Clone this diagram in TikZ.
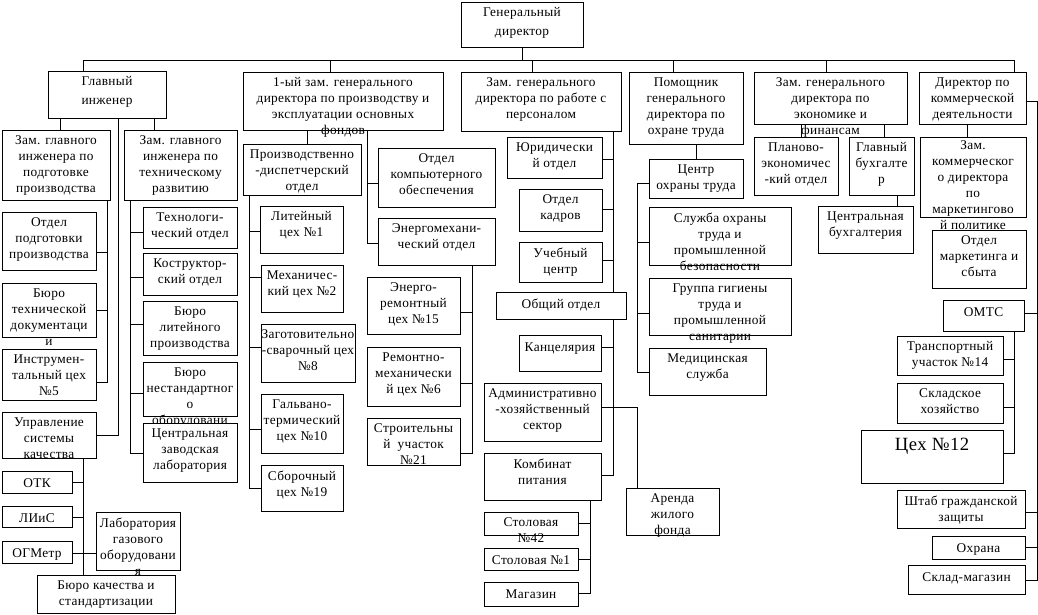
\documentclass[tikz,border=0pt]{standalone}
\usepackage{fontspec}
\setmainfont{Liberation Serif}[LetterSpace=2.5]
\usetikzlibrary{backgrounds}
\tikzset{
  box/.style={draw, fill=white, line width=0.75pt, inner sep=0pt, outer sep=0pt},
  txt/.style={anchor=north, inner sep=0pt, align=center, font=\fontsize{10}{12}\selectfont, execute at begin node=\strut},
  conn/.style={line width=0.75pt},
}
% #1 text options, #2 name, #3 x1, #4 y1, #5 x2, #6 y2, #7 text
\newcommand\orgbox[7][]{%
  \node[box, minimum width={(#5-#3)*0.75pt}, minimum height={(#6-#4)*0.75pt}] (#2) at ({(#3+#5)/2},{(#4+#6)/2}) {};
  \node[txt, #1] (#2-t) at ({(#3+#5)/2},{#4+5.5}) {#7};
}
\begin{document}
\begin{tikzpicture}[x=0.75pt,y=-0.75pt]
\useasboundingbox (0,0) rectangle (1038,614);
% top
\orgbox[font=\fontsize{10}{14.3}\selectfont]{gd}{461}{2}{583}{47}{Генеральный\\директор}
\orgbox{z1}{243}{72}{443}{130}{1-ый зам. генерального\\директора по производству и\\эксплуатации основных\\фондов}
\orgbox{zp}{461}{72}{621}{131}{Зам. генерального\\директора по работе с\\персоналом}
\orgbox{pom}{629}{72}{743}{144}{Помощник\\генерального\\директора по\\охране труда}
\orgbox{ze}{754}{72}{907}{124}{Зам. генерального\\директора по\\экономике и\\финансам}
\orgbox{dk}{919}{72}{1026}{124}{Директор по\\коммерческой\\деятельности}
% left
\orgbox[font=\fontsize{10}{13.9}\selectfont]{gi}{48}{71}{166}{118}{Главный\\инженер}
\orgbox{zgp}{2}{130}{110}{200}{Зам. главного\\инженера по\\подготовке\\производства}
\orgbox{zgt}{124}{130}{237}{200}{Зам. главного\\инженера по\\техническому\\развитию}
\orgbox{opp}{2}{212}{96}{270}{Отдел\\подготовки\\производства}
\orgbox{btd}{2}{283}{96}{337}{Бюро\\технической\\документаци\\и}
\orgbox{ic5}{2}{349}{96}{400}{Инструмен-\\тальный цех\\№5}
\orgbox{usk}{2}{412}{96}{458}{Управление\\системы\\качества}
\orgbox{otk}{2}{471}{72}{493}{ОТК}
\orgbox{liis}{2}{506}{72}{527}{ЛИиС}
\orgbox{ogm}{2}{541}{72}{563}{ОГМетр}
\orgbox{lgo}{96}{512}{180}{570}{Лаборатория\\газового\\оборудовани\\я}
\orgbox{bks}{37}{575}{175}{613}{Бюро качества и\\стандартизации}
\orgbox{tech}{143}{207}{237}{248}{Технологи-\\ческий отдел}
\orgbox{konst}{143}{253}{237}{295}{Коструктор-\\ский отдел}
\orgbox{blp}{143}{301}{237}{355}{Бюро\\литейного\\производства}
\orgbox{bno}{143}{362}{237}{416}{Бюро\\нестандартног\\о\\оборудовани}
\orgbox{czl}{143}{423}{237}{482}{Центральная\\заводская\\лаборатория}
% center-left
\orgbox{pdo}{243}{144}{361}{195}{Производственно\\-диспетчерский\\отдел}
\orgbox{lc1}{260}{206}{343}{253}{Литейный\\цех №1}
\orgbox{mc2}{261}{265}{343}{312}{Механичес-\\кий цех №2}
\orgbox{zsc8}{261}{324}{355}{382}{Заготовительно\\-сварочный цех\\№8}
\orgbox{gtc10}{261}{394}{343}{453}{Гальвано-\\термический\\цех №10}
\orgbox{sc19}{261}{465}{343}{511}{Сборочный\\цех №19}
\orgbox{oko}{378}{148}{495}{207}{Отдел\\компьютерного\\обеспечения}
\orgbox{emo}{378}{218}{495}{265}{Энергомехани-\\ческий отдел}
\orgbox{erc15}{367}{277}{460}{334}{Энерго-\\ремонтный\\цех №15}
\orgbox{rmc6}{367}{347}{460}{406}{Ремонтно-\\механически\\й цех №6}
\orgbox{su21}{367}{418}{460}{465}{Строительны\\й~ участок\\№21}
% center
\orgbox{yur}{507}{137}{602}{178}{Юридически\\й отдел}
\orgbox{kadr}{519}{189}{602}{231}{Отдел\\кадров}
\orgbox{uch}{519}{242}{602}{282}{Учебный\\центр}
\orgbox{obsh}{496}{292}{626}{319}{Общий отдел}
\orgbox{kanc}{519}{335}{601}{371}{Канцелярия}
\orgbox{ahs}{484}{383}{601}{441}{Административно\\-хозяйственный\\сектор}
\orgbox{komb}{484}{453}{601}{500}{Комбинат\\питания}
\orgbox{arenda}{626}{488}{719}{535}{Аренда\\жилого\\фонда}
\orgbox{st42}{484}{512}{578}{535}{Столовая\\№42}
\orgbox{st1}{484}{548}{578}{570}{Столовая №1}
\orgbox{mag}{484}{582}{578}{606}{Магазин}
% center-right
\orgbox{cot}{649}{159}{743}{198}{Центр\\охраны труда}
\orgbox{sot}{649}{207}{791}{265}{Служба охраны\\труда и\\промышленной\\безопасности}
\orgbox{ggt}{649}{278}{791}{335}{Группа гигиены\\труда и\\промышленной\\санитарии}
\orgbox{med}{649}{348}{766}{395}{Медицинская\\служба}
% right
\orgbox{peo}{754}{137}{838}{195}{Планово-\\экономичес\\-кий отдел}
\orgbox{gb}{849}{137}{914}{195}{Главный\\бухгалте\\р}
\orgbox{cb}{818}{206}{913}{253}{Центральная\\бухгалтерия}
\orgbox[yshift=1.5pt]{zkd}{920}{137}{1026}{217}{Зам.\\коммерческог\\о директора\\по\\маркетингово\\й политике}
\orgbox{oms}{932}{230}{1026}{288}{Отдел\\маркетинга и\\сбыта}
\orgbox{omts}{943}{300}{1024}{331}{ОМТС}
\orgbox{tu14}{897}{336}{1003}{375}{Транспортный\\участок №14}
\orgbox{skh}{897}{383}{1003}{423}{Складское\\хозяйство}
\orgbox[font=\fontsize{14}{16}\selectfont]{c12}{861}{430}{1003}{483}{Цех №12}
\orgbox{shgz}{897}{490}{1025}{528}{Штаб гражданской\\защиты}
\orgbox{ohr}{932}{536}{1025}{559}{Охрана}
\orgbox{skm}{908}{565}{1025}{594}{Склад-магазин}

\begin{pgfonlayer}{background}
\begin{scope}[conn]
% top bus
\draw (gd.south) -- (gd.south |- 0,60);
\draw (83,0 |- gi.north) -- (83,60) -- (1014,60) -- (1014,0 |- dk.north);
\draw (330,60) -- (330,0 |- z1.north);
\draw (532,60) -- (532,0 |- zp.north);
\draw (673,60) -- (673,0 |- pom.north);
\draw (826,60) -- (826,0 |- ze.north);
% chief engineer
\draw (60,0 |- gi.south) -- (60,0 |- zgp.north);
\draw (154,0 |- gi.south) -- (154,0 |- zgt.north);
\draw (118,0 |- gi.south) |- (usk.east);
\draw (107,0 |- zgp.south) |- (ic5.east |- 0,382);
\draw (opp.east |- 0,252) -- (107,252);
\draw (btd.east |- 0,310) -- (107,310);
\draw (130,0 |- zgt.south) |- (czl.west |- 0,453);
\draw (tech.west |- 0,232) -- (130,232);
\draw (konst.west |- 0,277) -- (130,277);
\draw (blp.west |- 0,324) -- (130,324);
\draw (bno.west |- 0,393) -- (130,393);
\draw (83,0 |- usk.south) -- (83,0 |- bks.north);
\draw (otk.east |- 0,482) -- (83,482);
\draw (liis.east |- 0,517) -- (83,517);
\draw (ogm.east |- 0,553) -- (lgo.west |- 0,553);
% first deputy
\draw (307,0 |- z1.south) -- (307,0 |- pdo.north);
\draw (367,0 |- z1.south) |- (emo.west |- 0,243);
\draw (oko.west |- 0,183) -- (367,183);
\draw (249,0 |- pdo.south) |- (sc19.west |- 0,488);
\draw (lc1.west |- 0,231) -- (249,231);
\draw (mc2.west |- 0,277) -- (249,277);
\draw (zsc8.west |- 0,347) -- (249,347);
\draw (gtc10.west |- 0,429) -- (249,429);
\draw (472,0 |- emo.south) |- (su21.east |- 0,453);
\draw (erc15.east |- 0,312) -- (472,312);
\draw (rmc6.east |- 0,383) -- (472,383);
% personnel
\draw (613,0 |- zp.south) |- (komb.east |- 0,475);
\draw (yur.east |- 0,159) -- (613,159);
\draw (kadr.east |- 0,209) -- (613,209);
\draw (uch.east |- 0,260) -- (613,260);
\draw (kanc.east |- 0,347) -- (613,347);
\draw (ahs.east |- 0,407) -| (637,0 |- arenda.north);
\draw (590,0 |- komb.south) |- (mag.east |- 0,593);
\draw (st42.east |- 0,523) -- (590,523);
\draw (st1.east |- 0,559) -- (590,559);
% labour safety
\draw (696,0 |- pom.south) -- (696,0 |- cot.north);
\draw (cot.west |- 0,183) -| (637,372) -- (med.west |- 0,372);
\draw (sot.west |- 0,242) -- (637,242);
\draw (ggt.west |- 0,313) -- (637,313);
% economics
\draw (801,0 |- ze.south) -- (801,0 |- peo.north);
\draw (884,0 |- ze.south) -- (884,0 |- gb.north);
\draw (897,0 |- gb.south) -- (897,0 |- cb.north);
% commercial
\draw (967,0 |- dk.south) -- (967,0 |- zkd.north);
\draw (dk.east |- 0,101) -| (1037,580) -- (skm.east |- 0,580);
\draw (omts.east |- 0,313) -- (1037,313);
\draw (shgz.east |- 0,512) -- (1037,512);
\draw (ohr.east |- 0,547) -- (1037,547);
\draw (1014,0 |- omts.south) |- (c12.east |- 0,453);
\draw (tu14.east |- 0,359) -- (1014,359);
\draw (skh.east |- 0,407) -- (1014,407);
\end{scope}
\end{pgfonlayer}
\end{tikzpicture}
\end{document}
